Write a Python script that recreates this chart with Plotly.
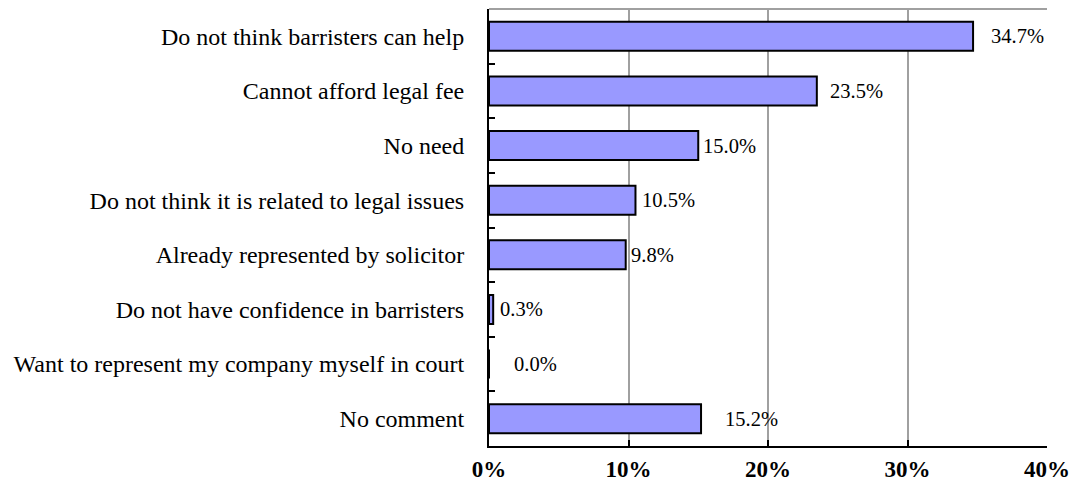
import plotly.graph_objects as go

categories = [
    "Do not think barristers can help",
    "Cannot afford legal fee",
    "No need",
    "Do not think it is related to legal issues",
    "Already represented by solicitor",
    "Do not have confidence in barristers",
    "Want to represent my company myself in court",
    "No comment",
]
values = [34.7, 23.5, 15.0, 10.5, 9.8, 0.3, 0.0, 15.2]
value_labels = ["34.7%", "23.5%", "15.0%", "10.5%", "9.8%", "0.3%", "0.0%", "15.2%"]
tick_vals = [0, 10, 20, 30, 40]
tick_text = ["0%", "10%", "20%", "30%", "40%"]
# horizontal pixel offset of each value label from its bar end
label_shift = [16, 11, 3, 5, 3, 5, 23, 22]

FONT = "Times New Roman, Liberation Serif, serif"

fig = go.Figure()
fig.add_trace(go.Bar(
    y=categories,
    x=values,
    orientation="h",
    marker=dict(color="#9999FF", line=dict(color="#000000", width=2)),
    hoverinfo="skip",
))

for cat, v, lab, sh in zip(categories, values, value_labels, label_shift):
    fig.add_annotation(
        x=v, y=cat, xref="x", yref="y",
        text=lab, showarrow=False,
        xanchor="left", yanchor="middle",
        xshift=sh,
        font=dict(family=FONT, size=20.5, color="#000000"),
    )

fig.add_shape(type="line", xref="paper", yref="paper",
              x0=0, x1=1, y0=1, y1=1,
              line=dict(color="#A0A0A0", width=2))

fig.update_layout(
    width=1077, height=494,
    margin=dict(l=481, r=38, t=1, b=56),
    paper_bgcolor="white", plot_bgcolor="white",
    bargap=0.47,
    showlegend=False,
    font=dict(family=FONT, color="#000000"),
    xaxis=dict(
        range=[0, 40],
        tickvals=tick_vals, ticktext=tick_text,
        tickfont=dict(family=FONT, size=23, color="#000000", weight="bold"),
        showgrid=True, gridcolor="#A0A0A0", gridwidth=2,
        showline=True, linecolor="#000000", linewidth=2,
        ticks="inside", ticklen=6, tickwidth=2, tickcolor="#000000",
        zeroline=False,
        ticklabelstandoff=1,
    ),
    yaxis=dict(
        autorange="reversed",
        type="category",
        tickfont=dict(family=FONT, size=24, color="#000000"),
        showline=True, linecolor="#000000", linewidth=2,
        ticks="inside", tickson="boundaries", ticklen=6, tickwidth=2, tickcolor="#000000",
        showgrid=False,
        ticklabelstandoff=18,
    ),
)

fig.write_html("out.html")
